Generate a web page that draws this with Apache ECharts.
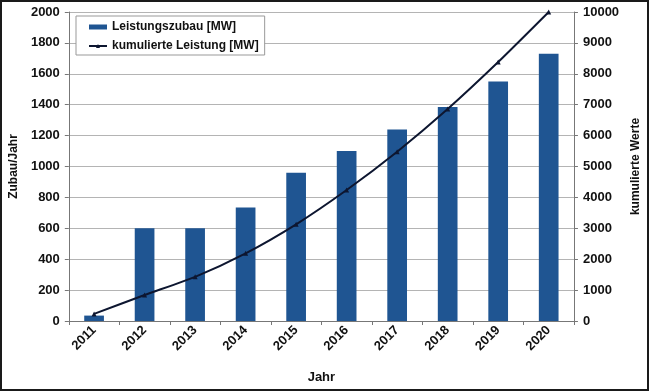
<!DOCTYPE html>
<html><head><meta charset="utf-8">
<script src="https://cdn.jsdelivr.net/npm/echarts@6/dist/echarts.min.js"></script>
<style>html,body{margin:0;padding:0;background:#fff}#c{width:650px;height:392px}</style>
</head><body><div id="c"></div>
<script>
var years = ['2011','2012','2013','2014','2015','2016','2017','2018','2019','2020'];
var zubau = [35, 600, 600, 735, 960, 1100, 1240, 1385, 1550, 1730];
var kumuliert = [230, 840, 1430, 2190, 3130, 4240, 5480, 6860, 8380, 10000];
var leftTicks = [0, 2000, 200];
var rightTicks = [0, 10000, 1000];

var font = 'Liberation Sans, Arial, sans-serif';
var plain = function (v) { return String(v); };
var chart = echarts.init(document.getElementById('c'));
chart.setOption({
  animation: false,
  textStyle: {fontFamily: font},
  grid: {left: 63, right: 74, top: 12, bottom: 71},
  graphic: [{type: 'rect', shape: {x: 1, y: 1, width: 647, height: 389}, style: {fill: 'none', stroke: '#1a1a1a', lineWidth: 2}, z: 100}],
  legend: {
    left: 76, top: 16, orient: 'vertical',
    backgroundColor: '#fff', borderColor: '#999', borderWidth: 1,
    padding: [5, 6, 3, 12], itemGap: 7, itemWidth: 18, itemHeight: 5,
    textStyle: {fontFamily: font, fontWeight: 'bold', fontSize: 12, color: '#111'},
    data: [
      {name: 'Leistungszubau [MW]', icon: 'rect'},
      {name: 'kumulierte Leistung [MW]'}
    ]
  },
  xAxis: {
    type: 'category', data: years, name: 'Jahr', nameLocation: 'middle', nameGap: 50,
    nameTextStyle: {fontWeight: 'bold', fontSize: 13, color: '#111'},
    axisLine: {lineStyle: {color: '#777'}},
    axisTick: {show: true, length: 4, lineStyle: {color: '#777'}},
    axisLabel: {rotate: 45, fontWeight: 'bold', fontSize: 13, color: '#111', margin: 7}
  },
  yAxis: [{
    type: 'value', min: leftTicks[0], max: leftTicks[1], interval: leftTicks[2],
    name: 'Zubau/Jahr', nameLocation: 'middle', nameGap: 47, nameRotate: 90,
    nameTextStyle: {fontWeight: 'bold', fontSize: 12, color: '#111'},
    axisLine: {show: true, lineStyle: {color: '#777'}},
    axisTick: {show: true, length: 4, lineStyle: {color: '#777'}},
    axisLabel: {fontWeight: 'bold', fontSize: 13, color: '#111', margin: 9, formatter: plain},
    splitLine: {lineStyle: {color: '#b4b4b4', width: 1}}
  }, {
    type: 'value', min: rightTicks[0], max: rightTicks[1], interval: rightTicks[2],
    name: 'kumulierte Werte', nameLocation: 'middle', nameGap: 56, nameRotate: 90,
    nameTextStyle: {fontWeight: 'bold', fontSize: 12, color: '#111'},
    axisLine: {show: true, lineStyle: {color: '#777'}},
    axisTick: {show: true, length: 4, lineStyle: {color: '#777'}},
    axisLabel: {fontWeight: 'bold', fontSize: 13, color: '#111', margin: 9, formatter: plain},
    splitLine: {show: false}
  }],
  series: [{
    name: 'Leistungszubau [MW]', type: 'bar', data: zubau, yAxisIndex: 0,
    barWidth: '39%', itemStyle: {color: '#1f5592'}
  }, {
    name: 'kumulierte Leistung [MW]', type: 'line', data: kumuliert, yAxisIndex: 1,
    smooth: 0.2, symbol: 'triangle', symbolSize: 5,
    lineStyle: {color: '#0d1630', width: 2}, itemStyle: {color: '#0d1630'}
  }]
});
</script></body></html>
